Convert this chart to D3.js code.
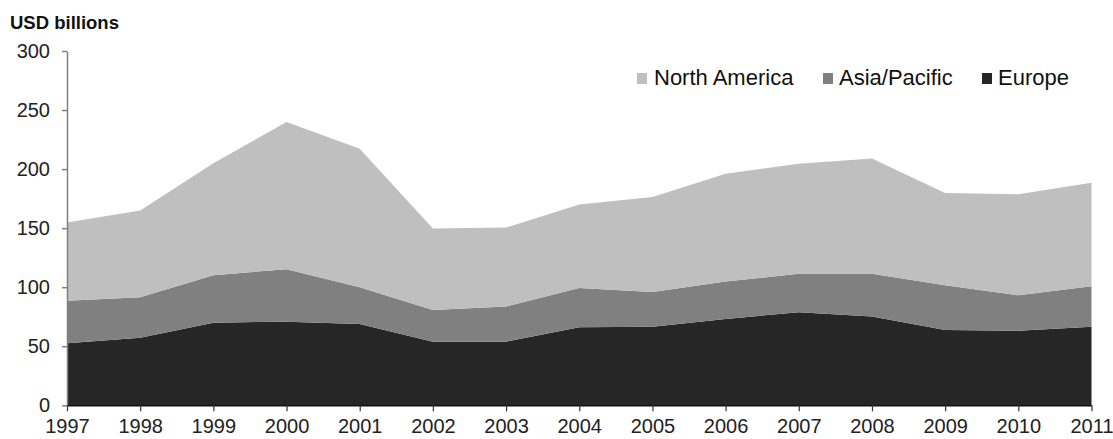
<!DOCTYPE html>
<html>
<head>
<meta charset="utf-8">
<script src="https://cdn.jsdelivr.net/npm/d3@7"></script>
<style>
  html, body { margin: 0; padding: 0; background: #fff; }
  svg { display: block; font-family: "Liberation Sans", Arial, sans-serif; }
</style>
</head>
<body>
<svg id="chart" width="1113" height="439"></svg>
<script>
const years = [1997,1998,1999,2000,2001,2002,2003,2004,2005,2006,2007,2008,2009,2010,2011];
const europe       = [52.5, 57.3, 70.0, 70.8, 68.9, 53.9, 53.9, 66.1, 66.6, 73.1, 78.8, 75.1, 63.8, 63.2, 66.6];
const asiaPacific  = [36.1, 34.2, 40.2, 44.5, 31.1, 26.9, 29.7, 33.3, 29.4, 31.7, 32.5, 36.2, 37.9, 30.0, 34.2];
const northAmerica = [66.1, 73.4, 94.8, 124.5, 117.2, 68.9, 66.9, 70.6, 80.3, 91.2, 93.2, 97.7, 78.0, 85.6, 87.6];
const seriesNames  = ["Europe", "Asia/Pacific", "North America"];
const seriesColors = ["#262626", "#808080", "#bfbfbf"];
const legendOrder  = ["North America", "Asia/Pacific", "Europe"];
const yTicks = [0, 50, 100, 150, 200, 250, 300];

const svg = d3.select("#chart");
const x0 = 67, x1 = 1091.5, yTop = 51, yBot = 405.3;

const x = d3.scalePoint().domain(years).range([x0, x1]);
const y = d3.scaleLinear().domain([0, 300]).range([yBot, yTop]);

const table = years.map((yr, i) => ({
  year: yr,
  "Europe": europe[i],
  "Asia/Pacific": asiaPacific[i],
  "North America": northAmerica[i]
}));
const stacked = d3.stack().keys(seriesNames)(table);
const colorOf = d3.scaleOrdinal().domain(seriesNames).range(seriesColors);

const area = d3.area()
  .x(d => x(d.data.year))
  .y0(d => y(d[0]))
  .y1(d => y(d[1]));

svg.append("g").selectAll("path")
  .data(stacked)
  .join("path")
  .attr("d", area)
  .attr("fill", d => colorOf(d.key));

// Y axis
const yAxis = d3.axisLeft(y).tickValues(yTicks).tickSize(5).tickPadding(12).tickSizeOuter(0);
const gy = svg.append("g").attr("transform", `translate(${x0},0)`).call(yAxis);
gy.select(".domain").attr("stroke", "#808080").attr("stroke-width", 1.5);
gy.selectAll(".tick line").attr("stroke", "#808080").attr("stroke-width", 1.5);
gy.selectAll(".tick text").attr("font-size", 20).attr("fill", "#222")
  .attr("font-family", "Liberation Sans, Arial, sans-serif");

// X axis
const xAxis = d3.axisBottom(x).tickSize(6).tickPadding(8).tickSizeOuter(0);
const gx = svg.append("g").attr("transform", `translate(0,${yBot})`).call(xAxis);
gx.select(".domain").attr("stroke", "#111").attr("stroke-width", 1.5);
gx.selectAll(".tick line").attr("stroke", "#333").attr("stroke-width", 1.2);
gx.selectAll(".tick text").attr("font-size", 20).attr("fill", "#222")
  .attr("font-family", "Liberation Sans, Arial, sans-serif");

// Axis title
svg.append("text")
  .attr("x", 10).attr("y", 29)
  .attr("font-size", 18.5).attr("font-weight", "bold").attr("fill", "#111")
  .text("USD billions");

// Legend
const legendX = [637, 823, 982];
const lg = svg.append("g").selectAll("g")
  .data(legendOrder)
  .join("g")
  .attr("transform", (d, i) => `translate(${legendX[i]},0)`);
lg.append("rect")
  .attr("x", 0).attr("y", 73).attr("width", 10).attr("height", 11)
  .attr("fill", d => colorOf(d));
lg.append("text")
  .attr("x", (d, i) => [17, 16, 16][i]).attr("y", 85)
  .attr("font-size", 22).attr("fill", "#111")
  .text(d => d);
</script>
</body>
</html>
